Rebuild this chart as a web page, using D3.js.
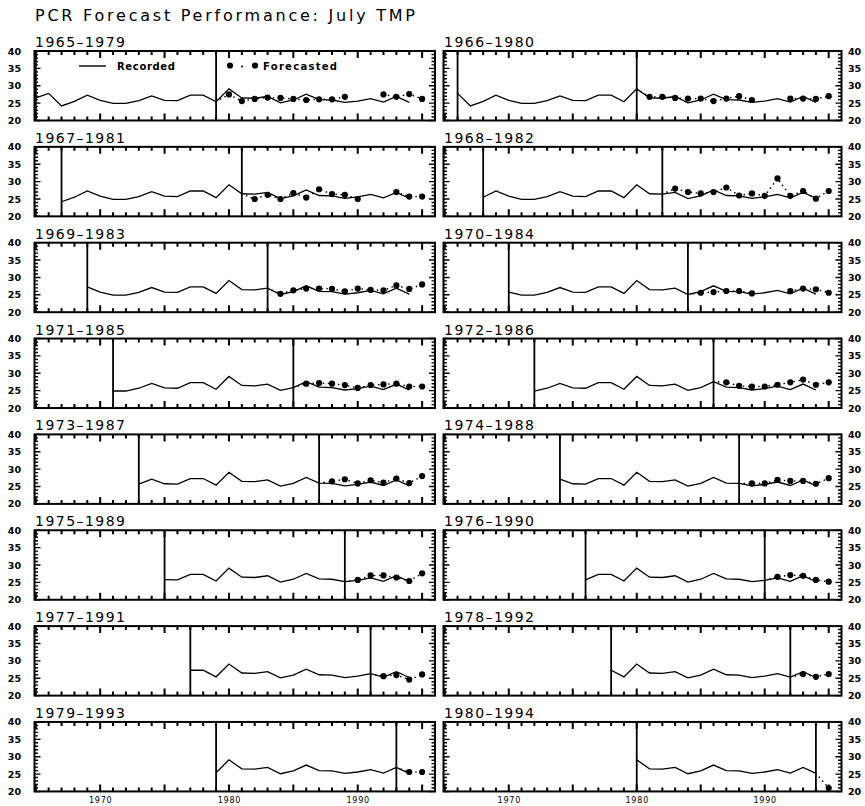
<!DOCTYPE html>
<html>
<head>
<meta charset="utf-8">
<script src="https://cdn.jsdelivr.net/npm/d3@7/dist/d3.min.js"></script>
<style>
  body { margin: 0; background: #fff; }
  svg { display: block; }
  text { font-family: "DejaVu Sans", sans-serif; fill: #000; }
</style>
</head>
<body>
<div id="chart"></div>
<script>
var svgWidth = 865;
var svgHeight = 806;

// Recorded July TMP, 1965-1994
var recYears = [1965, 1966, 1967, 1968, 1969, 1970, 1971, 1972, 1973, 1974,
                1975, 1976, 1977, 1978, 1979, 1980, 1981, 1982, 1983, 1984,
                1985, 1986, 1987, 1988, 1989, 1990, 1991, 1992, 1993, 1994];
var recorded = [26.5, 27.8, 24.2, 25.5, 27.3, 25.8, 24.9, 24.9, 25.7, 27.1,
                25.8, 25.7, 27.3, 27.3, 25.4, 29.1, 26.5, 26.4, 26.9, 25.1,
                25.9, 27.6, 26.0, 25.9, 25.2, 25.6, 26.3, 25.3, 26.9, 25.2];

// Calibration windows, one per panel
var calStart = [1965, 1966, 1967, 1968, 1969, 1970, 1971, 1972,
                1973, 1974, 1975, 1976, 1977, 1978, 1979, 1980];
var calEnd   = [1979, 1980, 1981, 1982, 1983, 1984, 1985, 1986,
                1987, 1988, 1989, 1990, 1991, 1992, 1993, 1994];

// Forecasts for each panel, from calEnd+1 up to 1995 (null = no forecast)
var fc1965 = [27.5, 25.6, 26.2, 26.6, 26.5, 26.2, 25.9, 26.1, 26.1, 26.8, null, null, 27.5, 26.8, 27.6, 26.2];
var fc1966 = [26.8, 26.8, 26.5, 26.3, 26.3, 25.6, 26.3, 27.0, 25.9, null, null, 26.3, 26.3, 26.2, 27.0];
var fc1967 = [25.0, 26.2, 25.0, 26.7, 25.4, 27.8, 26.4, 26.2, 25.0, null, null, 27.0, 25.7, 25.7];
var fc1968 = [28.0, 27.0, 26.6, 27.0, 28.3, 26.0, 26.6, 25.9, 30.9, 25.9, 27.3, 25.1, 27.3];
var fc1969 = [25.3, 26.3, 26.8, 26.8, 26.7, 26.0, 26.8, 26.4, 26.3, 27.7, 26.7, 28.0];
var fc1970 = [25.6, 25.8, 26.1, 26.1, 25.4, null, null, 26.1, 26.8, 26.6, 25.6];
var fc1971 = [27.0, 27.2, 27.0, 26.6, 25.8, 26.6, 26.8, 27.0, 26.2, 26.2];
var fc1972 = [27.4, 26.4, 26.2, 26.2, 26.7, 27.4, 28.2, 26.7, 27.4];
var fc1973 = [26.5, 27.1, 25.9, 26.8, 26.1, 27.3, 26.0, 28.0];
var fc1974 = [25.9, 25.9, 26.9, 26.6, 26.6, 25.8, 27.4];
var fc1975 = [25.7, 27.0, 27.0, 26.4, 25.4, 27.6];
var fc1976 = [26.6, 27.1, 26.9, 25.7, 25.2];
var fc1977 = [25.6, 25.9, 24.6, 26.1];
var fc1978 = [26.2, 25.4, 26.2];
var fc1979 = [25.6, 25.6];
var fc1980 = [21.0];
var forecasts = [fc1965, fc1966, fc1967, fc1968, fc1969, fc1970, fc1971, fc1972,
                 fc1973, fc1974, fc1975, fc1976, fc1977, fc1978, fc1979, fc1980];

var yLabelTicks = [20, 25, 30, 35, 40];
var xLabelTicks = [1970, 1980, 1990];
var xMajorTicks = [1965, 1970, 1975, 1980, 1985, 1990, 1995];
var xMinorTicks = [1965, 1966, 1967, 1968, 1969, 1970, 1971, 1972, 1973, 1974, 1975, 1976,
                   1977, 1978, 1979, 1980, 1981, 1982, 1983, 1984, 1985, 1986, 1987, 1988,
                   1989, 1990, 1991, 1992, 1993, 1994, 1995];
var yMinorTicks = [20, 21, 22, 23, 24, 25, 26, 27, 28, 29, 30, 31, 32, 33, 34, 35, 36, 37, 38, 39, 40];

// layout
var panelH = 69.5;
var rowTop0 = 51;
var rowPitch = 95.85;
var colRange = [[34.5, 435], [443.5, 841.5]];

var svg = d3.select("#chart")
    .append("svg")
    .attr("width", svgWidth)
    .attr("height", svgHeight);

svg.append("text")
    .attr("x", 35)
    .attr("y", 21)
    .attr("font-size", 16)
    .attr("textLength", 380)
    .attr("lengthAdjust", "spacing")
    .text("PCR Forecast Performance: July TMP");

var recData = recYears.map(function(yr, i) { return { year: yr, v: recorded[i] }; });

calStart.forEach(function(start, p) {
    var row = Math.floor(p / 2);
    var col = p % 2;
    var top = rowTop0 + row * rowPitch;
    var r = colRange[col];
    var w = r[1] - r[0];

    var x = d3.scaleLinear().domain([1964.9, 1996]).range([0, w]);
    var y = d3.scaleLinear().domain([20, 40]).range([panelH, 0]);

    var g = svg.append("g").attr("transform", `translate(${r[0]}, ${top})`);

    // panel title
    svg.append("text")
        .attr("x", r[0] + 0.5)
        .attr("y", top - 4)
        .attr("font-size", 14)
        .attr("textLength", 90)
        .attr("lengthAdjust", "spacing")
        .text(start + "\u2013" + calEnd[p]);

    // frame
    g.append("rect")
        .attr("width", w)
        .attr("height", panelH)
        .attr("fill", "none")
        .attr("stroke", "#000")
        .attr("stroke-width", 2);

    // inward ticks: top & bottom (years), left & right (values)
    var xt = function(vals, len) {
        return vals.map(function(d) {
            var px = x(d);
            return "M" + px + ",0v" + len + "M" + px + "," + panelH + "v" + (-len);
        }).join("");
    };
    var yt = function(vals, len) {
        return vals.map(function(d) {
            var py = y(d);
            return "M0," + py + "h" + len + "M" + w + "," + py + "h" + (-len);
        }).join("");
    };
    g.append("path")
        .attr("d", xt(xMinorTicks, 4) + xt(xMajorTicks, 7))
        .attr("fill", "none")
        .attr("stroke", "#000")
        .attr("stroke-width", 2);
    g.append("path")
        .attr("d", yt(yMinorTicks, 3.5) + yt(yLabelTicks, 6))
        .attr("fill", "none")
        .attr("stroke", "#000")
        .attr("stroke-width", 1.4);

    // y labels on the outer side
    var yLab = col === 0
        ? d3.axisLeft(y).tickValues(yLabelTicks).tickSize(0).tickPadding(13.5)
        : d3.axisRight(y).tickValues(yLabelTicks).tickSize(0).tickPadding(6.5);
    var yl = g.append("g")
        .attr("transform", `translate(${col === 0 ? 0 : w}, 0)`)
        .call(yLab);
    yl.select(".domain").remove();
    yl.selectAll("text")
        .attr("font-family", "DejaVu Sans, sans-serif")
        .attr("font-size", 9.5)
        .attr("font-weight", "bold");

    // x labels on the bottom row
    if (row === 7) {
        var xl = g.append("g")
            .attr("transform", `translate(0, ${panelH})`)
            .call(d3.axisBottom(x).tickValues(xLabelTicks).tickSize(0).tickPadding(5.5).tickFormat(d3.format("d")));
        xl.select(".domain").remove();
        xl.selectAll("text")
            .attr("font-family", "DejaVu Sans, sans-serif")
            .attr("font-size", 8)
            .attr("letter-spacing", 0.8);
    }

    // calibration window bounds
    g.selectAll("line.cal")
        .data([start, calEnd[p]])
        .enter()
        .append("line")
        .attr("class", "cal")
        .attr("x1", d => x(d))
        .attr("x2", d => x(d))
        .attr("y1", 0)
        .attr("y2", panelH)
        .attr("stroke", "#000")
        .attr("stroke-width", 1.8);

    // recorded series from window start
    var recLine = d3.line().x(d => x(d.year)).y(d => y(d.v));
    g.append("path")
        .datum(recData.filter(d => d.year >= start))
        .attr("d", recLine)
        .attr("fill", "none")
        .attr("stroke", "#000")
        .attr("stroke-width", 1.3);

    // forecasts: dotted line + dots
    var endIdx = recYears.indexOf(calEnd[p]);
    var fcData = [{ year: calEnd[p], v: recorded[endIdx] }].concat(
        forecasts[p].map(function(v, i) { return { year: calEnd[p] + 1 + i, v: v }; }));
    var fcLine = d3.line().defined(d => d.v !== null).x(d => x(d.year)).y(d => y(d.v));
    g.append("path")
        .datum(fcData)
        .attr("d", fcLine)
        .attr("fill", "none")
        .attr("stroke", "#000")
        .attr("stroke-width", 1.6)
        .attr("stroke-linecap", "round")
        .attr("stroke-dasharray", "0.1,5");

    g.selectAll("circle.fc")
        .data(fcData.slice(1).filter(d => d.v !== null))
        .enter()
        .append("circle")
        .attr("class", "fc")
        .attr("cx", d => x(d.year))
        .attr("cy", d => y(d.v))
        .attr("r", 3.1)
        .attr("fill", "#000");

    // legend in the first panel
    if (p === 0) {
        g.append("line")
            .attr("x1", 79 - r[0]).attr("x2", 106 - r[0])
            .attr("y1", 15).attr("y2", 15)
            .attr("stroke", "#000").attr("stroke-width", 1.4);
        g.append("text")
            .attr("x", 117 - r[0]).attr("y", 18.5)
            .attr("font-size", 10).attr("font-weight", "bold")
            .attr("textLength", 58).attr("lengthAdjust", "spacing")
            .text("Recorded");
        g.selectAll("circle.leg")
            .data([230, 255])
            .enter()
            .append("circle")
            .attr("class", "leg")
            .attr("cx", d => d - r[0]).attr("cy", 14.5).attr("r", 3.1);
        g.append("circle")
            .attr("cx", 242 - r[0]).attr("cy", 15.5).attr("r", 1);
        g.append("text")
            .attr("x", 263 - r[0]).attr("y", 18.5)
            .attr("font-size", 10).attr("font-weight", "bold")
            .attr("textLength", 74).attr("lengthAdjust", "spacing")
            .text("Forecasted");
    }
});
</script>
</body>
</html>
